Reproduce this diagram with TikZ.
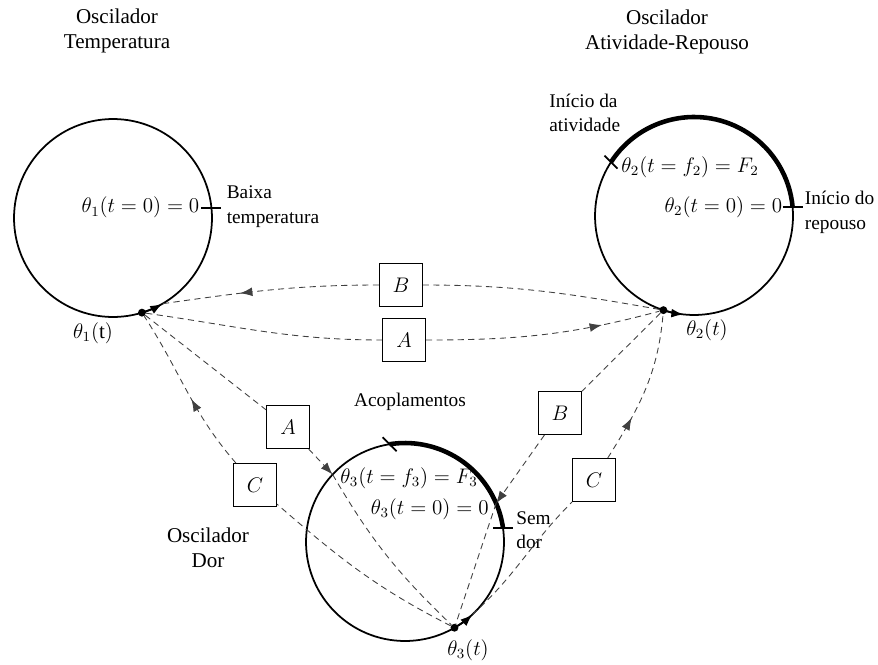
\documentclass[tikz,border=0pt]{standalone}
\usepackage{fontspec}
\setmainfont{Liberation Serif}
\usetikzlibrary{shapes,arrows,arrows.meta,decorations.markings}
\tikzstyle{line} = [draw, black!75, line width=0.5pt, dash pattern=on 3.5pt off 2.5pt]
\tikzstyle{tip} = [-{Latex[length=7pt,width=5pt]}]
\tikzstyle{note} = [align=left, inner sep=0pt, font=\fontsize{11}{14}\selectfont]
\tikzset{midtip/.style={postaction={decorate},
  decoration={markings, mark=at position #1 with {\arrow{Latex[length=7pt,width=5pt]}}}}}

\begin{document}
\begin{tikzpicture}
  [x=0.02cm,y=0.02cm,font=\fontsize{12}{14.2}\selectfont,
   osc/.style={circle,draw,line width=1pt,minimum size=3.96cm,inner sep=0pt,outer sep=0pt},
   box/.style={draw,fill=white,line width=0.6pt,minimum size=0.86cm,inner sep=0pt},
   dot/.style={circle,fill=black,minimum size=4.5pt,inner sep=0pt}]
  \useasboundingbox (0,0) rectangle (878,664);

  % oscillators
  \node[osc] (osc1) at (113,446) {};
  \node[osc] (osc2) at (694,448) {};
  \node[osc] (osc3) at (405,122) {};

  \node[align=center] (t_temp) at (117,633) {Oscilador\\Temperatura};
  \node[align=center] (t_ativ) at (667,632) {Oscilador\\Atividade-Repouso};
  \node[align=center] (t_dor) at (208,116) {Oscilador\\Dor};
  \node[note] (t_acop) at (410,262) {Acoplamentos};

  % active parts
  \draw[line width=2.6pt] (osc2.147) arc[start angle=147,end angle=5,radius=99];
  \draw[line width=2.6pt] (osc3.99) arc[start angle=99,end angle=8,radius=99];

  % marks
  \draw[line width=1pt] ([xshift=-0.2cm]osc1.6) -- ([xshift=0.2cm]osc1.6);
  \draw[line width=1pt] ([xshift=-0.2cm]osc2.5) -- ([xshift=0.2cm]osc2.5);
  \draw[line width=1pt] ([xshift=-0.2cm]osc3.8) -- ([xshift=0.2cm]osc3.8);
  \draw[line width=1pt] ([shift={(-0.13cm,0.13cm)}]osc2.147) -- ([shift={(0.13cm,-0.13cm)}]osc2.147);
  \draw[line width=1pt] ([shift={(-0.14cm,0.14cm)}]osc3.99) -- ([shift={(0.14cm,-0.14cm)}]osc3.99);

  \node[anchor=east,inner sep=1pt] (l1_zero) at ([xshift=-0.2cm]osc1.6) {$\theta_1(t=0)=0$};
  \node[note,anchor=west] (l1_baixa) at ([xshift=0.3cm,yshift=0.02cm]osc1.6) {Baixa\\temperatura};
  \node[anchor=east,inner sep=0pt] (l2_zero) at ([xshift=-0.2cm]osc2.5) {$\theta_2(t=0)=0$};
  \node[note,anchor=west] (l2_rep) at ([xshift=0.24cm,yshift=-0.1cm]osc2.5) {Início do\\repouso};
  \node[anchor=west,inner sep=0pt] (l2_f) at (621,497) {$\theta_2(t=f_2)=F_2$};
  \node[note,anchor=west] (l2_ativ) at (549,551) {Início da\\atividade};
  \node[anchor=west,inner sep=0pt] (l3_f) at (340,186) {$\theta_3(t=f_3)=F_3$};
  \node[anchor=east,inner sep=0pt] (l3_zero) at (489,155) {$\theta_3(t=0)=0$};
  \node[note,anchor=west] (l3_sem) at (516,134) {Sem\\dor};

  % phases
  \node[dot] (d1) at (osc1.-73) {};
  \node[dot] (d2) at (osc2.-108) {};
  \node[dot] (d3) at (osc3.-60) {};
  \coordinate (t1) at (osc1.-60);
  \coordinate (t3) at (osc3.-47);
  \draw[line width=1pt,tip] (osc1.-73) arc[start angle=-73,end angle=-60,radius=99];
  \draw[line width=1pt,tip] (osc2.-108) arc[start angle=-108,end angle=-96,radius=99];
  \draw[line width=1pt,tip] (osc3.-60) arc[start angle=-60,end angle=-47,radius=99];
  \node (th1) at (93,331) {$\theta_1(\mathrm{t})$};
  \node (th2) at (707,334) {$\theta_2(t)$};
  \node (th3) at (468,14) {$\theta_3(t)$};

  % couplings
  \node[box] (bB) at (401,379) {$B$};
  \node[box] (bA) at (404,324) {$A$};
  \node[box] (lA) at (288,237) {$A$};
  \node[box] (lC) at (255,179) {$C$};
  \node[box] (rB) at (560,251) {$B$};
  \node[box] (rC) at (594,184) {$C$};

  \path [line] (d2) to[out=170,in=0] (bB);
  \path [line,midtip=0.64] (bB) to[out=180,in=8] (t1);
  \path [line] (d1) to[out=-8,in=180] (bA);
  \path [line,midtip=0.75] (bA) to[out=0,in=195] (d2);

  \path [line] (d1) -- (lA);
  \path [line,tip] (lA) -- (osc3.137);
  \path [line] (osc3.137) to[bend right=8] (d3);

  \path [line] (d2) -- (rB);
  \path [line,tip] (rB) -- (osc3.23);
  \path [line] (osc3.23) -- (d3);

  \path [line] (d3) to[out=153,in=-41] (lC);
  \path [line,midtip=0.45] (lC) to[out=131,in=-57] (d1);
  \path [line] (t3) to[out=42,in=225] (rC);
  \path [line,midtip=0.3] (rC) to[out=58,in=-95] (d2);

\end{tikzpicture}
\end{document}
